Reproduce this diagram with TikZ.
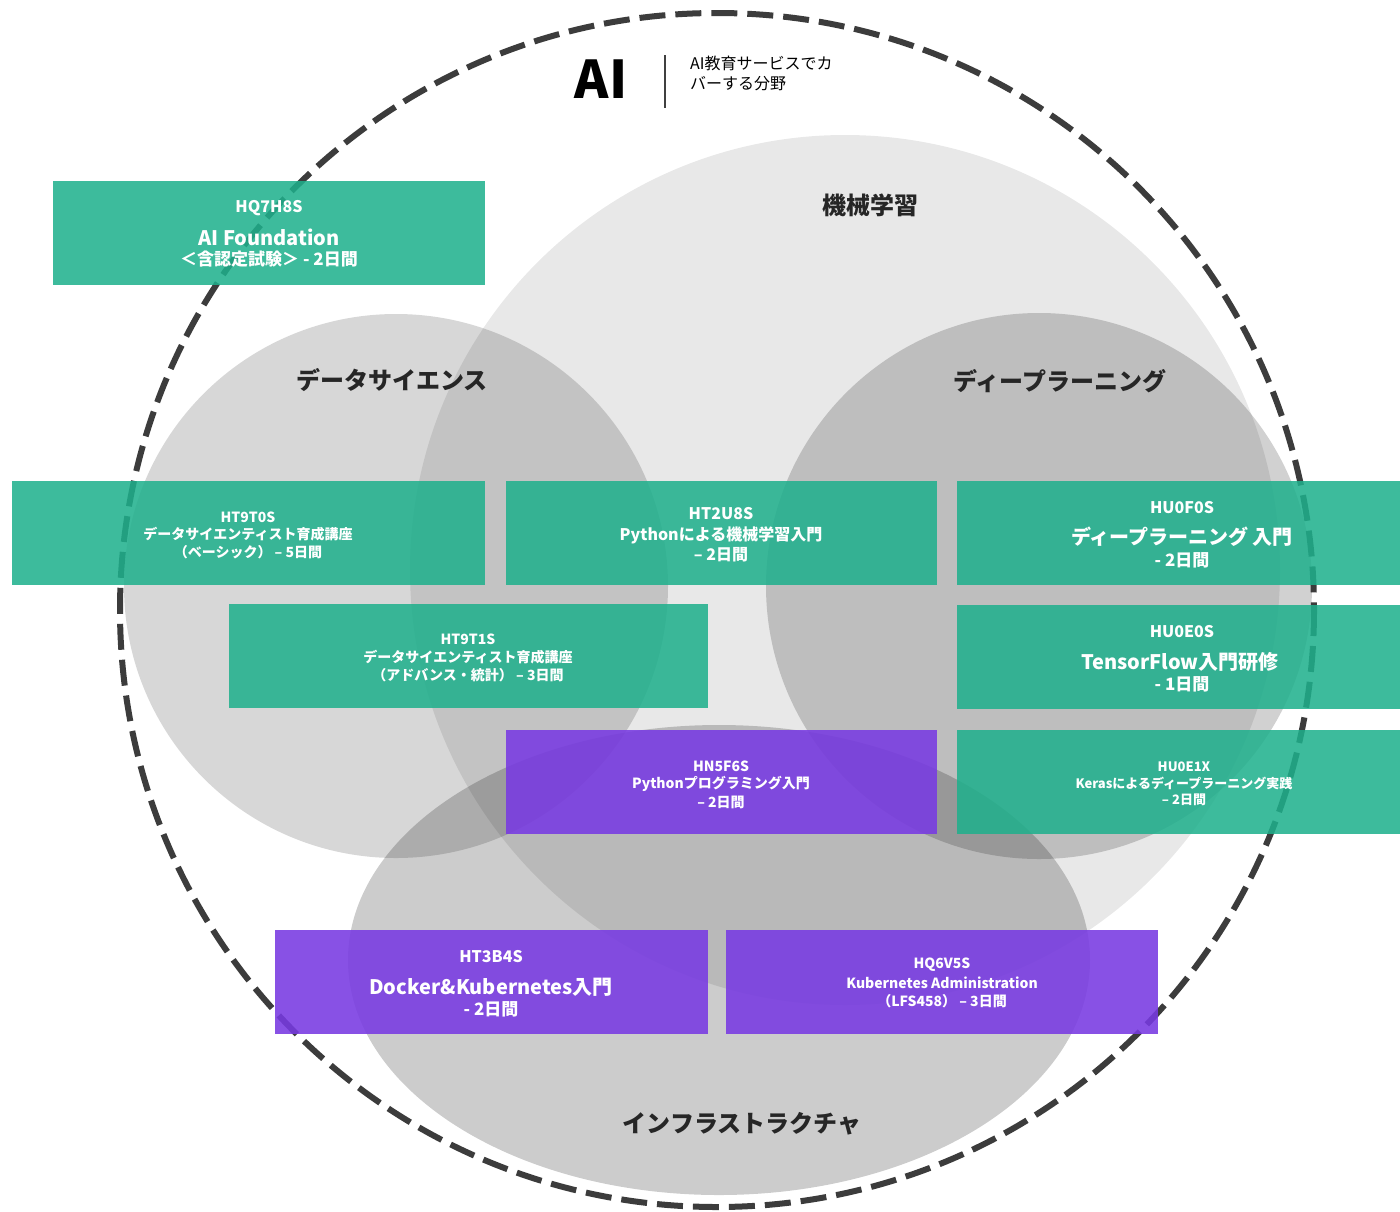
\documentclass[tikz,border=0pt]{standalone}
\usepackage{fontspec}
\setmainfont{Noto Sans CJK JP}
\setsansfont{Noto Sans CJK JP}
\usetikzlibrary{positioning}
\definecolor{tgreen}{RGB}{30,176,140}
\definecolor{tpurple}{RGB}{120,58,226}
\definecolor{dashgrey}{RGB}{60,60,60}
\tikzset{
  greenbox/.style={draw=none,fill=tgreen,fill opacity=0.86,rectangle,inner sep=0pt},
  purplebox/.style={draw=none,fill=tpurple,fill opacity=0.88,rectangle,inner sep=0pt},
  wt/.style={text=white,font=\bfseries,inner sep=0pt,anchor=center},
  area/.style={fill=black,draw=none},
  arealabel/.style={font=\bfseries\fontsize{24}{28}\selectfont,text=black!85,inner sep=0pt}
}
\newcommand{\fs}[1]{\fontsize{#1}{#1}\selectfont}
\begin{document}
\begin{tikzpicture}[x=1pt,y=-1pt]
\useasboundingbox (0,0) rectangle (1400,1211);
\fill[white] (0,0) rectangle (1400,1211);
% areas
\fill[area,fill opacity=0.09] (845,570) circle (435);
\fill[area,fill opacity=0.155] (396,586) circle (272);
\fill[area,fill opacity=0.18] (1039,586) circle (273);
\fill[area,fill opacity=0.20] (719,960) ellipse (371 and 235);
% dashed outer circle
\draw[dashgrey,line width=6pt,dash pattern=on 26pt off 10pt] (717,610) circle (597);
% header
\node[inner sep=0pt,font=\bfseries\fs{52}] (ai) at (601,79) {AI};
\coordinate (lt) at (665,55);
\coordinate (lb) at (665,108);
\draw[black!75,line width=2.5pt] (lt) -- (lb);
\node[inner sep=0pt,anchor=west,font=\fs{16}] (sub1) at (690,63) {AI教育サービスでカ};
\node[inner sep=0pt,anchor=west,font=\fs{16}] (sub2) at (690,84) {バーする分野};
% area labels
\node[arealabel] (ml) at (870,205) {機械学習};
\node[arealabel] (ds) at (392,380) {データサイエンス};
\node[arealabel] (dl) at (1060,381) {ディープラーニング};
\node[arealabel] (inf) at (742,1124) {インフラストラクチャ};
% boxes
\path[greenbox] (53,181) rectangle (485,285);
\node[wt,font=\bfseries\fs{16}] (a1) at (269,208) {HQ7H8S};
\node[wt,font=\bfseries\fs{20}] (a2) at (269,237) {AI Foundation};
\node[wt,font=\bfseries\fs{17}] (a3) at (269,259) {＜含認定試験＞ - 2日間};

\path[greenbox] (12,481) rectangle (485,585);
\node[wt,font=\bfseries\fs{14}] (b1) at (248,517) {HT9T0S};
\node[wt,font=\bfseries\fs{14}] (b2) at (248,534) {データサイエンティスト育成講座};
\node[wt,font=\bfseries\fs{14}] (b3) at (248,552) {（ベーシック） – 5日間};

\path[greenbox] (506,481) rectangle (937,585);
\node[wt,font=\bfseries\fs{16}] (c1) at (721,514) {HT2U8S};
\node[wt,font=\bfseries\fs{16}] (c2) at (721,535) {Pythonによる機械学習入門};
\node[wt,font=\bfseries\fs{16}] (c3) at (721,555) {– 2日間};

\path[greenbox] (957,481) rectangle (1400,585);
\node[wt,font=\bfseries\fs{16}] (d1) at (1182,508) {HU0F0S};
\node[wt,font=\bfseries\fs{20}] (d2) at (1182,537) {ディープラーニング 入門};
\node[wt,font=\bfseries\fs{17}] (d3) at (1182,560) {- 2日間};

\path[greenbox] (229,604) rectangle (708,708);
\node[wt,font=\bfseries\fs{14}] (e1) at (468,639) {HT9T1S};
\node[wt,font=\bfseries\fs{14}] (e2) at (468,657) {データサイエンティスト育成講座};
\node[wt,font=\bfseries\fs{14}] (e3) at (468,675) {（アドバンス・統計） – 3日間};

\path[greenbox] (957,605) rectangle (1400,709);
\node[wt,font=\bfseries\fs{16}] (f1) at (1182,632) {HU0E0S};
\node[wt,font=\bfseries\fs{20}] (f2) at (1180,662) {TensorFlow入門研修};
\node[wt,font=\bfseries\fs{17}] (f3) at (1182,684) {- 1日間};

\path[purplebox] (506,730) rectangle (937,834);
\node[wt,font=\bfseries\fs{14}] (g1) at (721,766) {HN5F6S};
\node[wt,font=\bfseries\fs{14}] (g2) at (721,784) {Pythonプログラミング入門};
\node[wt,font=\bfseries\fs{14}] (g3) at (721,802) {– 2日間};

\path[greenbox] (957,730) rectangle (1400,834);
\node[wt,font=\bfseries\fs{13}] (h1) at (1184,767) {HU0E1X};
\node[wt,font=\bfseries\fs{13}] (h2) at (1184,783) {Kerasによるディープラーニング実践};
\node[wt,font=\bfseries\fs{13}] (h3) at (1184,800) {– 2日間};

\path[purplebox] (275,930) rectangle (708,1034);
\node[wt,font=\bfseries\fs{16}] (i1) at (491,957) {HT3B4S};
\node[wt,font=\bfseries\fs{20}] (i2) at (491,987) {Docker\&Kubernetes入門};
\node[wt,font=\bfseries\fs{17}] (i3) at (491,1009) {- 2日間};

\path[purplebox] (726,930) rectangle (1158,1034);
\node[wt,font=\bfseries\fs{14}] (j1) at (942,965) {HQ6V5S};
\node[wt,font=\bfseries\fs{14}] (j2) at (942,983) {Kubernetes Administration};
\node[wt,font=\bfseries\fs{14}] (j3) at (942,1001) {（LFS458） – 3日間};
\end{tikzpicture}
\end{document}
